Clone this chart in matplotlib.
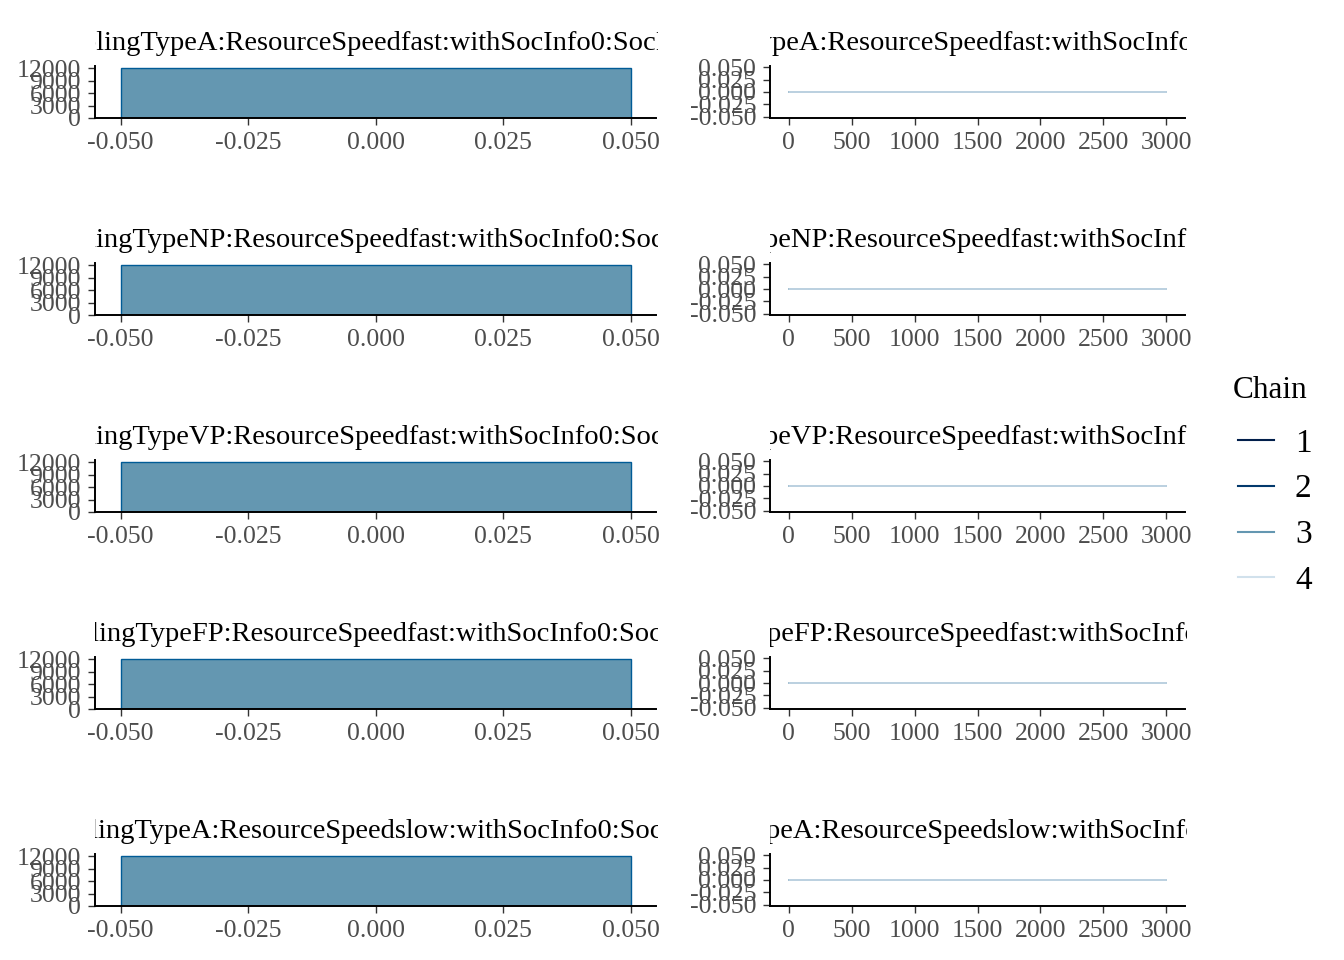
"""MCMC combo plot: histograms + trace plots"""

import matplotlib
matplotlib.use("Agg")
import matplotlib.pyplot as plt
import numpy as np
from matplotlib.lines import Line2D
from matplotlib.transforms import Bbox, TransformedBbox


PARAMS = ["b_SamplingTypeA:ResourceSpeedfast:withSocInfo0:SocInfoTyp",
          "b_SamplingTypeNP:ResourceSpeedfast:withSocInfo0:SocInfoTyp",
          "b_SamplingTypeVP:ResourceSpeedfast:withSocInfo0:SocInfoTyp",
          "b_SamplingTypeFP:ResourceSpeedfast:withSocInfo0:SocInfoTyp",
          "b_SamplingTypeA:ResourceSpeedslow:withSocInfo0:SocInfoTyp"]

CHAINS = ["1", "2", "3", "4"]
N_ITER = 3000
# every chain of every parameter sat at exactly 0
CHAIN_VALUE = [[0.0, 0.0, 0.0, 0.0] for _ in PARAMS]

HIST_XTICKS = [-0.050, -0.025, 0.000, 0.025, 0.050]
HIST_YTICKS = [0, 3000, 6000, 9000, 12000]
TRACE_XTICKS = [0, 500, 1000, 1500, 2000, 2500, 3000]
TRACE_YTICKS = [-0.050, -0.025, 0.000, 0.025, 0.050]

CHAIN_COLORS = ["#011f4b", "#03396c", "#6497b1", "#d1e1ec"]
HIST_FILL = "#6497b1"
HIST_EDGE = "#005b96"

W, H = 1344, 960
plt.rcParams["font.family"] = ["Liberation Serif", "DejaVu Serif"]


def style_axis(ax):
    for side in ["top", "right"]:
        ax.spines[side].set_visible(False)
    for side in ["left", "bottom"]:
        ax.spines[side].set_linewidth(1.4)
        ax.spines[side].set_color("black")
    ax.tick_params(length=5, width=1.0, color="#333333", labelcolor="#4d4d4d",
                   labelsize=18.5, pad=5)
    ax.set_facecolor("none")


def add_title(fig, ax, text):
    pos = ax.get_position()
    t = fig.text((pos.x0 + pos.x1) / 2, pos.y1 + 10 / H, text, ha="center",
                 va="bottom", fontsize=20.5, color="black")
    clip = TransformedBbox(Bbox([[pos.x0, pos.y1], [pos.x1 + 2 / W, pos.y1 + 60 / H]]),
                           fig.transFigure)
    t.set_clip_box(clip)
    t.set_clip_on(True)


def main():
    fig = plt.figure(figsize=(W / 100, H / 100), dpi=100)

    for i, name in enumerate(PARAMS):
        bottom = 118 + 197 * i
        y0 = 1 - bottom / H
        h = 52 / H

        # histogram of all draws
        ax = fig.add_axes([95 / W, y0, 561 / W, h])
        draws = np.repeat(CHAIN_VALUE[i], N_ITER)
        ax.hist(draws, bins=[-0.05, 0.05], color=HIST_FILL, edgecolor=HIST_EDGE,
                linewidth=1.0)
        ax.set_xlim(-0.055, 0.055)
        ax.set_ylim(0, 12600)
        ax.set_xticks(HIST_XTICKS)
        ax.set_xticklabels([f"{v:.3f}" for v in HIST_XTICKS])
        ax.set_yticks(HIST_YTICKS)
        style_axis(ax)
        add_title(fig, ax, name)

        # trace plot
        ax2 = fig.add_axes([770 / W, y0, 415 / W, h])
        it = np.arange(1, N_ITER + 1)
        for c, col in enumerate(CHAIN_COLORS):
            ax2.plot(it, np.full(N_ITER, CHAIN_VALUE[i][c]), color=col, lw=1.2)
        ax2.set_xlim(-150, 3150)
        ax2.set_ylim(-0.0525, 0.0525)
        ax2.set_xticks(TRACE_XTICKS)
        ax2.set_yticks(TRACE_YTICKS)
        ax2.set_yticklabels([f"{v:.3f}" for v in TRACE_YTICKS])
        style_axis(ax2)
        add_title(fig, ax2, name)

    fig.text(1233 / W, 1 - 390 / H, "Chain", ha="left", va="center",
             fontsize=22.5, color="black")
    handles = [Line2D([], [], color=c, lw=1.5) for c in CHAIN_COLORS]
    fig.legend(handles, CHAINS, loc="center left",
               bbox_to_anchor=(1208 / W, 1 - 512 / H), frameon=False,
               fontsize=24, handlelength=1.08, handletextpad=0.63,
               labelspacing=0.46)

    fig.savefig("out.png", dpi=100)


main()
